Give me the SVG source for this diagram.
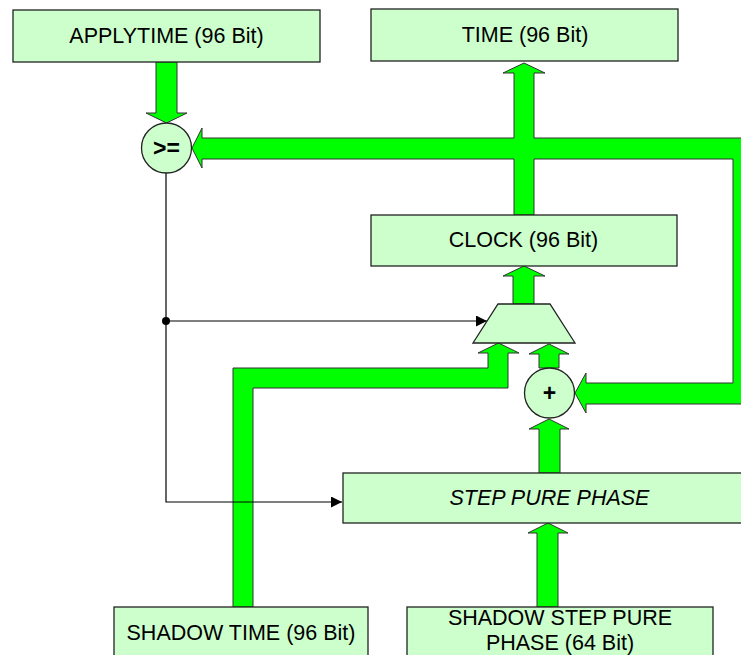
<svg xmlns="http://www.w3.org/2000/svg" width="741" height="655" viewBox="0 0 741 655">
<defs>
<style>
.box{fill:#CCFFCC;stroke:#222;stroke-width:1.3}
.bus{fill:#00FF00;stroke:#333;stroke-width:1}
.wire{fill:none;stroke:#000;stroke-width:1.2}
.lbl{font-family:"Liberation Sans",Arial,sans-serif;font-size:21.5px;fill:#000;text-anchor:middle}
.op{font-family:"Liberation Sans",Arial,sans-serif;font-size:23px;font-weight:bold;fill:#000;text-anchor:middle}
</style>
<marker id="ah" viewBox="0 0 10 10" refX="10" refY="5" markerWidth="11" markerHeight="11" markerUnits="userSpaceOnUse" orient="auto">
<path d="M0,0 L10,5 L0,10 z" fill="#000"/>
</marker>
</defs>
<rect width="741" height="655" fill="#fff"/>
<g id="connectors">
<polygon class="bus" points="524,63 545,73 534,73 534,138 753,138 753,404 586,404 586,413 575,393 586,373 586,383 733,383 733,159 534,159 534,215 514,215 514,159 202,159 202,168 192,148 202,128 202,138 514,138 514,73 503,73"/>
<polygon class="bus" points="156,62 177,62 177,113 187,113 166.5,123 146,113 156,113"/>
<polygon class="bus" points="524,266 545,276 534,276 534,304 513,304 513,276 503,276"/>
<polygon class="bus" points="498.5,343 519,353 508,353 508,388 253,388 253,607 233,607 233,368 488,368 488,353 478,353"/>
<polygon class="bus" points="549,344 569,354 559,354 559,368 539,368 539,354 529,354"/>
<polygon class="bus" points="549,419 569,429 560,429 560,473 539,473 539,429 529,429"/>
<polygon class="bus" points="548,523 568,533 558,533 558,607 537,607 537,533 528,533"/>
<path class="wire" d="M166,173 V502 H342" marker-end="url(#ah)"/>
<path class="wire" d="M166,321 H487" marker-end="url(#ah)"/>
<circle cx="166" cy="321" r="4" fill="#000"/>
</g>
<g id="applytime"><rect class="box" x="13" y="10" width="307" height="52"/><text class="lbl" x="166.5" y="43">APPLYTIME (96 Bit)</text></g>
<g id="time"><rect class="box" x="371" y="9" width="307" height="52"/><text class="lbl" x="525" y="42">TIME (96 Bit)</text></g>
<g id="compare"><circle class="box" cx="166.5" cy="148" r="25"/><text class="op" x="166.5" y="156">&gt;=</text></g>
<g id="clock"><rect class="box" x="371" y="215" width="306" height="51"/><text class="lbl" x="523.5" y="247">CLOCK (96 Bit)</text></g>
<g id="mux"><polygon class="box" points="498,304 550,304 575,343 473,343"/></g>
<g id="adder"><circle class="box" cx="549.5" cy="393" r="25"/><text class="op" x="549.5" y="401">+</text></g>
<g id="step"><rect class="box" x="343" y="473" width="420" height="50"/><text class="lbl" x="549.5" y="505" font-style="italic">STEP PURE PHASE</text></g>
<g id="shadowtime"><rect class="box" x="114" y="607" width="254" height="60"/><text class="lbl" x="241" y="640">SHADOW TIME (96 Bit)</text></g>
<g id="shadowstep"><rect class="box" x="407" y="607" width="306" height="60"/><text class="lbl" x="560" y="625">SHADOW STEP PURE</text><text class="lbl" x="560" y="650">PHASE (64 Bit)</text></g>
</svg>
